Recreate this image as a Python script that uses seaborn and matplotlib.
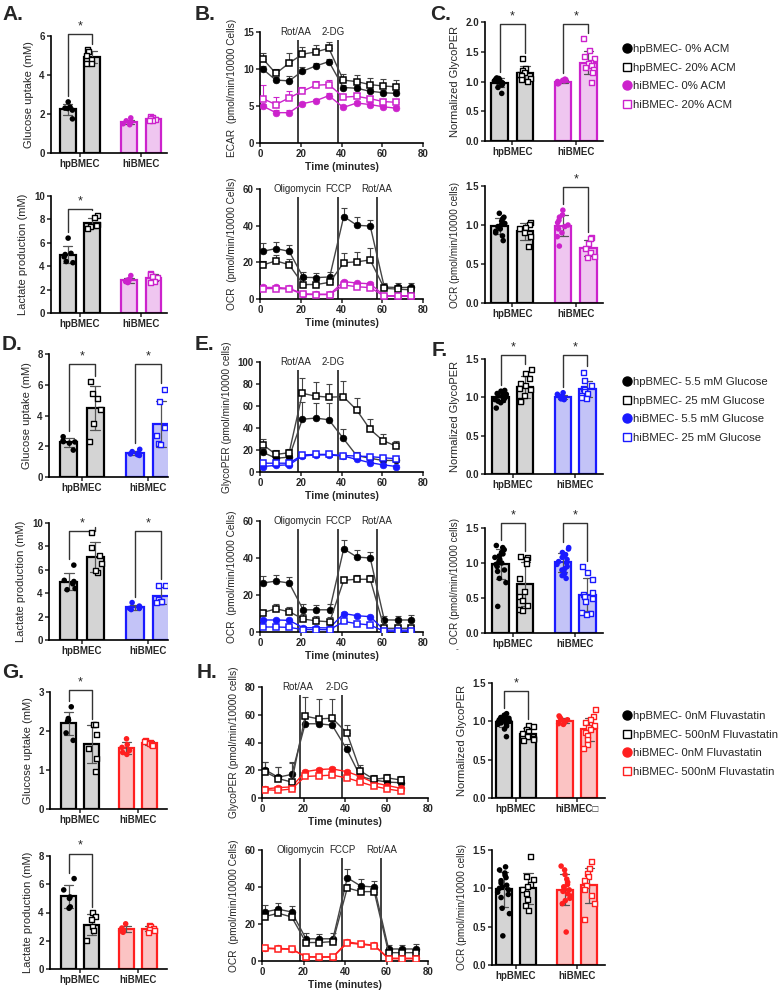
import numpy as np
import pandas as pd
import seaborn as sns
import matplotlib
matplotlib.use("Agg")
import matplotlib.pyplot as plt
from matplotlib.lines import Line2D

W, H = 781, 991
np.random.seed(3)  # only for the horizontal jitter of the dots

CELLS = ["hpBMEC", "hiBMEC"]
ACM = ["0% ACM", "20% ACM"]
GLUC = ["5.5 mM Glucose", "25 mM Glucose"]
FLUVA = ["0nM Fluvastatin", "500nM Fluvastatin"]

# ---- bar panels: [hp ctrl, hp treated, hi ctrl, hi treated] ----
A_GLU = [[2.62, 2.35, 2.30, 2.28, 2.20, 1.75],
         [5.30, 5.20, 5.00, 4.80, 4.60, 4.60],
         [1.80, 1.65, 1.60, 1.55, 1.50, 1.45],
         [1.85, 1.82, 1.78, 1.70, 1.65, 1.68]]
A_LAC = [[6.4, 5.1, 5.0, 4.8, 4.4, 4.3],
         [8.3, 8.2, 7.6, 7.5, 7.4, 7.2],
         [3.2, 2.9, 2.8, 2.7, 2.6, 2.7],
         [3.4, 3.3, 3.1, 3.0, 2.7, 2.6]]
C_GLYCO = [[1.06, 1.05, 1.04, 1.03, 1.02, 1.01, 1.00, 0.99, 0.98, 0.97, 0.96, 0.94, 0.90, 0.80],
           [1.38, 1.22, 1.18, 1.15, 1.12, 1.10, 1.05, 1.03, 1.00],
           [1.04, 1.03, 1.02, 1.01, 1.00, 0.99, 0.98, 0.97, 0.96],
           [1.72, 1.52, 1.42, 1.38, 1.32, 1.30, 1.27, 1.24, 1.20, 1.15, 0.99]]
C_OCR = [[1.15, 1.10, 1.08, 1.05, 1.02, 1.00, 0.98, 0.95, 0.92, 0.90, 0.86, 0.80],
         [1.03, 1.01, 0.97, 0.95, 0.90, 0.85, 0.72],
         [1.19, 1.13, 1.10, 1.06, 1.03, 1.00, 0.98, 0.95, 0.90, 0.85, 0.73],
         [0.84, 0.83, 0.76, 0.70, 0.65, 0.60, 0.58]]
D_GLU = [[2.62, 2.35, 2.30, 2.28, 2.20, 1.75],
         [6.2, 5.4, 5.1, 4.4, 3.5, 2.3],
         [1.80, 1.65, 1.55, 1.50, 1.45, 1.40],
         [5.7, 4.9, 3.2, 2.7, 2.2, 2.1]]
D_LAC = [[6.4, 5.1, 5.0, 4.8, 4.4, 4.3],
         [9.2, 7.9, 7.2, 6.5, 5.8, 5.9],
         [3.2, 2.9, 2.8, 2.7, 2.6, 2.7],
         [4.7, 4.7, 3.5, 3.3, 3.3, 3.2]]
F_GLYCO = [[1.09, 1.08, 1.06, 1.05, 1.04, 1.03, 1.02, 1.01, 1.00, 0.99, 0.98, 0.97, 0.96, 0.95, 0.93, 0.86],
           [1.36, 1.31, 1.25, 1.18, 1.15, 1.12, 1.10, 1.02, 0.96, 0.94],
           [1.06, 1.04, 1.02, 1.01, 1.00, 0.99, 0.98, 0.98, 0.97],
           [1.33, 1.22, 1.16, 1.12, 1.10, 1.08, 1.05, 1.02, 1.00, 0.98]]
F_OCR = [[1.25, 1.22, 1.19, 1.15, 1.13, 1.10, 1.08, 1.05, 1.02, 1.00, 0.98, 0.95, 0.90, 0.88, 0.78, 0.72, 0.38],
         [1.10, 1.08, 1.05, 1.00, 0.78, 0.60, 0.52, 0.47, 0.40, 0.33, 0.32],
         [1.22, 1.20, 1.15, 1.12, 1.10, 1.08, 1.05, 1.02, 1.00, 0.98, 0.95, 0.92, 0.90, 0.85, 0.82, 0.78],
         [0.95, 0.87, 0.77, 0.58, 0.55, 0.52, 0.50, 0.45, 0.30, 0.28, 0.26]]
G_GLU = [[2.62, 2.32, 2.28, 2.25, 1.95, 1.76],
         [2.16, 2.16, 1.90, 1.56, 1.30, 0.96],
         [1.80, 1.65, 1.58, 1.50, 1.45, 1.40],
         [1.75, 1.72, 1.70, 1.67, 1.65, 1.62]]
G_LAC = [[6.4, 5.6, 5.1, 5.0, 4.4, 4.3],
         [4.0, 3.7, 3.5, 3.0, 2.7, 2.0],
         [3.2, 2.9, 2.8, 2.7, 2.6, 2.7],
         [3.1, 3.0, 2.9, 2.8, 2.7, 2.6]]
I_GLYCO = [[1.10, 1.08, 1.06, 1.05, 1.04, 1.03, 1.02, 1.01, 1.00, 0.99, 0.98, 0.97, 0.96, 0.94, 0.90, 0.80],
           [0.95, 0.93, 0.89, 0.87, 0.84, 0.82, 0.80, 0.77, 0.76, 0.75],
           [1.07, 1.05, 1.03, 1.02, 1.00, 1.00, 0.98, 0.97, 0.96],
           [1.15, 1.06, 1.02, 0.98, 0.95, 0.92, 0.89, 0.86, 0.82, 0.76, 0.70, 0.65]]
I_OCR = [[1.28, 1.24, 1.20, 1.17, 1.14, 1.10, 1.07, 1.04, 1.02, 1.00, 0.98, 0.95, 0.92, 0.88, 0.74, 0.67, 0.38],
         [1.41, 1.15, 1.12, 1.05, 1.02, 0.98, 0.93, 0.85, 0.78, 0.71],
         [1.29, 1.24, 1.18, 1.12, 1.08, 1.05, 1.02, 1.00, 0.98, 0.96, 0.93, 0.90, 0.87, 0.84, 0.80, 0.43],
         [1.35, 1.26, 1.20, 1.15, 1.10, 1.04, 0.98, 0.91, 0.80, 0.59]]

# ---- seahorse time courses ----
T_GLYCO = [1.3, 7.8, 14.3, 20.8, 27.3, 33.8, 40.9, 47.4, 53.9, 60.4, 66.9]
T_MITO = [1.3, 7.8, 14.3, 21.2, 27.7, 34.2, 41.1, 47.6, 54.1, 61.0, 67.5, 74.0]

B_ECAR = [[10.0, 8.5, 8.4, 9.7, 10.4, 11.0, 7.5, 7.4, 7.0, 6.8, 6.7],
          [11.4, 9.4, 10.8, 12.0, 12.3, 12.8, 8.5, 8.3, 7.9, 7.7, 7.6],
          [5.0, 4.1, 4.1, 5.3, 5.7, 6.4, 4.8, 5.4, 5.2, 4.9, 4.7],
          [6.0, 5.2, 6.1, 7.0, 7.8, 7.9, 6.2, 6.3, 6.0, 5.6, 5.5]]
B_ECAR_SD = [[0.4, 0.4, 0.6, 0.6, 0.4, 0.4, 0.3, 0.3, 0.3, 0.3, 0.3],
             [0.8, 0.6, 1.3, 1.0, 1.0, 0.9, 0.8, 0.9, 0.9, 0.9, 0.9],
             [0.3, 0.3, 0.3, 0.3, 0.3, 0.3, 0.3, 0.3, 0.3, 0.3, 0.3],
             [1.9, 1.0, 0.9, 0.6, 0.6, 0.6, 0.4, 0.4, 0.4, 0.4, 0.4]]
B_OCR = [[26.0, 27.5, 26.0, 11.8, 11.7, 12.0, 45.0, 40.2, 39.8, 6.5, 6.3, 6.3],
         [18.5, 20.8, 18.7, 7.9, 7.9, 9.1, 19.8, 20.3, 21.3, 5.8, 5.4, 5.0],
         [6.3, 6.3, 5.8, 2.8, 2.6, 2.6, 9.5, 8.7, 8.3, 1.8, 1.8, 1.8],
         [5.7, 5.7, 5.5, 2.5, 2.4, 2.4, 7.6, 6.7, 6.2, 1.5, 1.5, 1.4]]
B_OCR_SD = [[4.5, 3.5, 3.2, 3.0, 2.5, 2.8, 4.5, 4.5, 3.5, 2.0, 2.5, 2.5],
            [2.5, 3.0, 3.0, 3.0, 2.5, 3.5, 5.5, 5.5, 6.5, 1.2, 1.2, 1.2],
            [0.8, 0.8, 0.8, 0.6, 0.6, 0.6, 0.8, 0.8, 0.8, 0.5, 0.5, 0.5],
            [0.8, 0.8, 0.8, 0.6, 0.6, 0.6, 0.8, 0.8, 0.8, 0.5, 0.5, 0.5]]
E_GLYCO = [[18.0, 12.5, 13.5, 48.0, 49.0, 47.5, 30.5, 15.0, 12.5, 10.5, 10.5],
           [25.0, 16.0, 17.5, 71.5, 69.0, 68.0, 68.5, 56.5, 39.0, 28.5, 23.5],
           [5.0, 6.0, 6.5, 14.5, 15.5, 15.5, 14.5, 11.5, 8.5, 6.5, 5.0],
           [8.0, 8.0, 8.0, 15.5, 16.0, 16.0, 15.0, 14.5, 14.0, 13.0, 12.0]]
E_GLYCO_SD = [[3, 4, 3, 16, 14, 15, 9, 3, 2, 2, 2],
              [5, 4, 3, 14, 13, 12, 14.5, 10.5, 9, 6.5, 5],
              [1, 1, 1, 1, 1, 1, 1, 1, 1, 1, 1],
              [1, 1, 1, 1, 1, 1, 1, 1, 1, 1, 1]]
E_OCR = [[26.5, 27.5, 26.5, 12.0, 12.0, 12.0, 45.0, 40.5, 40.0, 6.5, 6.5, 6.5],
         [10.5, 12.5, 11.0, 7.0, 6.0, 5.5, 28.0, 28.5, 28.5, 2.0, 2.0, 2.0],
         [6.5, 6.5, 6.3, 2.3, 2.3, 2.2, 10.0, 8.8, 8.3, 1.0, 1.0, 1.0],
         [2.7, 2.7, 2.5, 1.3, 1.3, 1.2, 5.7, 4.5, 3.8, 0.3, 0.3, 0.3]]
E_OCR_SD = [[4, 3.5, 3, 3, 2.5, 3, 4.5, 4, 3, 2, 2, 2.5],
            [1.5, 2.5, 2.5, 2.5, 2.5, 2.5, 2, 2.5, 2.5, 1.5, 1.5, 1.5],
            [0.6, 0.6, 0.6, 0.6, 0.6, 0.6, 0.6, 0.6, 0.6, 0.6, 0.6, 0.6],
            [0.6, 0.6, 0.6, 0.6, 0.6, 0.6, 0.6, 0.6, 0.6, 0.6, 0.6, 0.6]]
H_GLYCO = [[20.5, 15.0, 17.0, 53.5, 53.5, 52.5, 35.0, 15.5, 13.0, 11.5, 11.0],
           [19.0, 14.0, 11.5, 59.0, 57.0, 57.5, 47.0, 19.5, 13.5, 14.5, 13.0],
           [6.5, 7.5, 8.0, 19.0, 20.5, 21.0, 19.0, 15.5, 11.0, 9.0, 7.0],
           [6.0, 5.5, 6.5, 15.5, 16.0, 16.5, 14.5, 11.5, 8.5, 6.5, 5.0]]
H_GLYCO_SD = [[5.5, 7.0, 9.0, 4.0, 3.0, 3.0, 4.0, 2.5, 2.0, 2.0, 2.0],
              [7.0, 8.0, 14.0, 14.0, 14.0, 14.0, 5.5, 4.5, 3.0, 2.5, 3.0],
              [1, 1, 1, 1, 1, 1, 1, 1, 1, 1, 1],
              [1, 1, 1, 1, 1, 1, 1, 1, 1, 1, 1]]
H_OCR = [[26.5, 28.0, 26.5, 12.0, 12.0, 12.0, 45.0, 40.5, 40.0, 6.5, 6.5, 6.5],
         [24.0, 25.8, 23.8, 10.0, 10.0, 10.5, 39.5, 37.5, 37.5, 4.5, 4.5, 4.5],
         [7.0, 6.8, 6.5, 2.3, 2.2, 2.3, 10.3, 9.3, 8.5, 1.5, 1.5, 1.5],
         [6.8, 6.5, 6.3, 2.2, 2.1, 2.1, 9.8, 9.0, 8.3, 1.2, 1.2, 1.2]]
H_OCR_SD = [[4, 3.5, 3, 3, 2.5, 3, 4.5, 4, 3, 2, 2, 2.5],
            [2, 2, 2, 1.5, 1.5, 1.5, 2, 2, 2, 1, 1, 1],
            [0.6, 0.6, 0.6, 0.6, 0.6, 0.6, 0.6, 0.6, 0.6, 0.6, 0.6, 0.6],
            [0.6, 0.6, 0.6, 0.6, 0.6, 0.6, 0.6, 0.6, 0.6, 0.6, 0.6, 0.6]]

GLYCO_INJ = ["Rot/AA", "2-DG"]
MITO_INJ = ["Oligomycin", "FCCP", "Rot/AA"]

MAGENTA, BLUE, RED = "#cc22cc", "#1a1aff", "#ff1f1f"
FILLS = {MAGENTA: "#efc6f0", BLUE: "#c3c3f7", RED: "#fbc3c3"}

sns.set_style("ticks")
plt.rcParams["font.family"] = ["Liberation Sans", "DejaVu Sans"]
plt.rcParams["axes.edgecolor"] = "black"
plt.rcParams["axes.linewidth"] = 1.2


def px(l, t, r, b):
    return [l / W, 1 - b / H, (r - l) / W, (b - t) / H]


def style_axis(ax, ylim, yticks, fmt, ylabel, ylsize):
    sns.despine(ax=ax)
    ax.set_ylim(*ylim)
    ax.set_yticks(yticks)
    ax.set_yticklabels([fmt.format(v) for v in yticks])
    ax.set_ylabel(ylabel, fontsize=ylsize)
    ax.tick_params(labelsize=7, length=3, width=1.1, pad=1.5)
    for t in ax.get_xticklabels() + ax.get_yticklabels():
        t.set_fontweight("bold")


def bar_panel(ax, groups, conds, color, ylim, yticks, fmt, ylabel, xlim,
              brackets=(), xlabels=CELLS, ylsize=8):
    rows = []
    for i, vals in enumerate(groups):
        rows += [(CELLS[i // 2], conds[i % 2], v) for v in vals]
    df = pd.DataFrame(rows, columns=["cell", "cond", "val"])
    sns.barplot(data=df, x="cell", y="val", hue="cond", order=CELLS, hue_order=conds,
                errorbar="sd", capsize=0.3, gap=0.35, legend=False, ax=ax,
                err_kws=dict(color="#555555", linewidth=0.9))
    for p in ax.patches:
        hi = int(round(p.get_x() + p.get_width() / 2)) == 1
        p.set_facecolor(FILLS[color] if hi else "#d4d4d4")
        p.set_edgecolor(color if hi else "black")
        p.set_linewidth(1.6)
    for i in range(4):
        ci, k = i // 2, i % 2
        c = color if ci else "black"
        sub = df[(df.cell == CELLS[ci]) & (df.cond == conds[k])]
        if k == 0:
            sns.stripplot(data=sub, x="cell", y="val", hue="cond", order=CELLS,
                          hue_order=conds, dodge=True, jitter=0.2, palette=[c, c],
                          size=4, linewidth=0, legend=False, ax=ax)
        else:
            sns.stripplot(data=sub, x="cell", y="val", hue="cond", order=CELLS,
                          hue_order=conds, dodge=True, jitter=0.2,
                          palette=["white", "white"], marker="s", size=3.6,
                          edgecolor=c, linewidth=1.0, legend=False, ax=ax)
    for ci, top in brackets:
        x1, x2 = ci - 0.2, ci + 0.2
        pad = 0.05 * ylim[1]
        y1 = max(groups[2 * ci]) + pad
        y2 = max(groups[2 * ci + 1]) + pad
        ax.plot([x1, x1, x2, x2], [y1, top, top, y2], color="#333333", lw=1,
                clip_on=False)
        ax.text(ci, top + 0.015 * ylim[1], "*", ha="center", va="bottom",
                fontsize=9, clip_on=False)
    ax.set_xlim(*xlim)
    ax.set_xticks([0, 1])
    ax.set_xticklabels(xlabels)
    ax.set_xlabel("")
    style_axis(ax, ylim, yticks, fmt, ylabel, ylsize)


def time_panel(ax, t, means, sds, color, ylim, yticks, ylabel, inj_x, inj_lbl, lbl_x):
    for i in range(4):
        ci, k = i // 2, i % 2
        c = color if ci else "black"
        lc = color if ci else "#444444"
        ax.errorbar(t, means[i], yerr=[np.zeros(len(t)), sds[i]], fmt="none",
                    ecolor=lc, elinewidth=0.8, capsize=2, capthick=0.8, zorder=2)
        if k == 0:
            sns.lineplot(x=t, y=means[i], color=lc, marker="o", markersize=4.8,
                         mfc=c, mec=c, mew=0.5, lw=1, ax=ax, zorder=3)
        else:
            sns.lineplot(x=t, y=means[i], color=lc, marker="s", markersize=4.8,
                         mfc="white", mec=c, mew=1.1, lw=1, ax=ax, zorder=4)
    ax.vlines(inj_x, 0, 0.93 * ylim[1], color="#303030", lw=1.3)
    for x, lab in zip(lbl_x, inj_lbl):
        ax.text(x, ylim[1], lab, ha="center", va="center", fontsize=7)
    ax.set_xlim(0, 80)
    ax.set_xticks([0, 20, 40, 60, 80])
    ax.set_xlabel("Time (minutes)", fontsize=7.5, fontweight="bold", labelpad=2)
    style_axis(ax, ylim, yticks, "{:g}", ylabel, 7.3)


fig = plt.figure(figsize=(W / 100, H / 100), dpi=100)
GL = dict(inj_x=[18.5, 38.5], inj_lbl=GLYCO_INJ, lbl_x=[17.3, 36.0])
MI = dict(inj_x=[18.5, 38.5, 57.5], inj_lbl=MITO_INJ, lbl_x=[18.5, 38.5, 57.5])
int_fmt, f1 = "{:g}", "{:.1f}"
OCR_LBL = "OCR (pmol/min/10000 cells)"

# row 1: ACM
bar_panel(fig.add_axes(px(51, 36, 167, 153)), A_GLU, ACM, MAGENTA, (0, 6), [0, 2, 4, 6],
          int_fmt, "Glucose uptake (mM)", (-0.47, 1.42), [(0, 6.1)])
bar_panel(fig.add_axes(px(51, 196, 167, 313)), A_LAC, ACM, MAGENTA, (0, 10),
          [0, 2, 4, 6, 8, 10], int_fmt, "Lactate production (mM)", (-0.47, 1.42), [(0, 8.9)])
time_panel(fig.add_axes(px(260, 32, 423, 143)), T_GLYCO, B_ECAR, B_ECAR_SD, MAGENTA,
           (0, 15), [0, 5, 10, 15], "ECAR  (pmol/min/10000 Cells)", **GL)
time_panel(fig.add_axes(px(260, 189, 423, 299)), T_MITO, B_OCR, B_OCR_SD, MAGENTA,
           (0, 60), [0, 20, 40, 60], "OCR  (pmol/min/10000 Cells)", **MI)
bar_panel(fig.add_axes(px(485, 22, 603, 141)), C_GLYCO, ACM, MAGENTA, (0, 2),
          [0, 0.5, 1.0, 1.5, 2.0], f1, "Normalized GlycoPER", (-0.43, 1.43),
          [(0, 1.96), (1, 1.96)])
bar_panel(fig.add_axes(px(485, 186, 603, 303)), C_OCR, ACM, MAGENTA, (0, 1.5),
          [0, 0.5, 1.0, 1.5], f1, OCR_LBL, (-0.43, 1.43), [(1, 1.49)], ylsize=7.2)

# row 2: glucose
bar_panel(fig.add_axes(px(49, 354, 168, 477)), D_GLU, GLUC, BLUE, (0, 8), [0, 2, 4, 6, 8],
          int_fmt, "Glucose uptake (mM)", (-0.5, 1.3), [(0, 7.35), (1, 7.35)])
bar_panel(fig.add_axes(px(49, 523, 168, 640)), D_LAC, GLUC, BLUE, (0, 10),
          [0, 2, 4, 6, 8, 10], int_fmt, "Lactate production (mM)", (-0.5, 1.3),
          [(0, 9.3), (1, 9.3)])
time_panel(fig.add_axes(px(260, 362, 423, 472)), T_GLYCO, E_GLYCO, E_GLYCO_SD, BLUE,
           (0, 100), [0, 20, 40, 60, 80, 100], "GlycoPER (pmol/min/10000 cells)", **GL)
time_panel(fig.add_axes(px(260, 521, 423, 632)), T_MITO, E_OCR, E_OCR_SD, BLUE,
           (0, 60), [0, 20, 40, 60], "OCR  (pmol/min/10000 Cells)", **MI)
bar_panel(fig.add_axes(px(485, 359, 603, 474)), F_GLYCO, GLUC, BLUE, (0, 1.5),
          [0, 0.5, 1.0, 1.5], f1, "Normalized GlycoPER", (-0.45, 1.45),
          [(0, 1.55), (1, 1.55)])
bar_panel(fig.add_axes(px(485, 528, 603, 633)), F_OCR, GLUC, BLUE, (0, 1.5),
          [0, 0.5, 1.0, 1.5], f1, OCR_LBL, (-0.45, 1.45),
          [(0, 1.57), (1, 1.57)], ylsize=7.2)

# row 3: fluvastatin
bar_panel(fig.add_axes(px(50, 692, 167, 809)), G_GLU, FLUVA, RED, (0, 3), [0, 1, 2, 3],
          int_fmt, "Glucose uptake (mM)", (-0.52, 1.5), [(0, 3.04)])
bar_panel(fig.add_axes(px(50, 856, 167, 969)), G_LAC, FLUVA, RED, (0, 8), [0, 2, 4, 6, 8],
          int_fmt, "Lactate production (mM)", (-0.52, 1.5), [(0, 8.17)])
time_panel(fig.add_axes(px(262, 687, 428, 798)), T_GLYCO, H_GLYCO, H_GLYCO_SD, RED,
           (0, 80), [0, 20, 40, 60, 80], "GlycoPER (pmol/min/10000 cells)", **GL)
time_panel(fig.add_axes(px(262, 850, 428, 961)), T_MITO, H_OCR, H_OCR_SD, RED,
           (0, 60), [0, 20, 40, 60], "OCR  (pmol/min/10000 Cells)", **MI)
bar_panel(fig.add_axes(px(492, 683, 605, 798)), I_GLYCO, FLUVA, RED, (0, 1.5),
          [0, 0.5, 1.0, 1.5], f1, "Normalized GlycoPER", (-0.39, 1.46), [(0, 1.4)],
          xlabels=["hpBMEC", "hiBMEC\u25a1"])
bar_panel(fig.add_axes(px(492, 850, 605, 965)), I_OCR, FLUVA, RED, (0, 1.5),
          [0, 0.5, 1.0, 1.5], f1, OCR_LBL, (-0.39, 1.46), ylsize=7.2)

# legends
for conds, color, top in [(ACM, MAGENTA, 44), (GLUC, BLUE, 377), (FLUVA, RED, 711)]:
    handles = [Line2D([], [], ls="", marker="o", ms=6.5, mfc="black", mec="black"),
               Line2D([], [], ls="", marker="s", ms=6, mfc="white", mec="black", mew=1),
               Line2D([], [], ls="", marker="o", ms=6.5, mfc=color, mec=color),
               Line2D([], [], ls="", marker="s", ms=6, mfc="white", mec=color, mew=1)]
    labels = [f"{c}- {k}" for c in CELLS for k in conds]
    fig.legend(handles, labels, loc="upper left", bbox_to_anchor=(623 / W, 1 - top / H),
               frameon=False, fontsize=8.2, handlelength=0.7, handletextpad=0.2,
               labelspacing=0.75, borderpad=0, borderaxespad=0)

for lab, x, y in [("A.", 2, 15), ("B.", 195, 15), ("C.", 430, 15), ("D.", 2, 345),
                  ("E.", 195, 345), ("F.", 432, 350), ("G.", 2, 673), ("H.", 197, 673)]:
    fig.text(x / W, 1 - y / H, lab, fontsize=15, fontweight="bold", va="center")
fig.text(456 / W, 1 - 650 / H, "-", fontsize=6, va="center")

fig.savefig("out.png", dpi=100)
